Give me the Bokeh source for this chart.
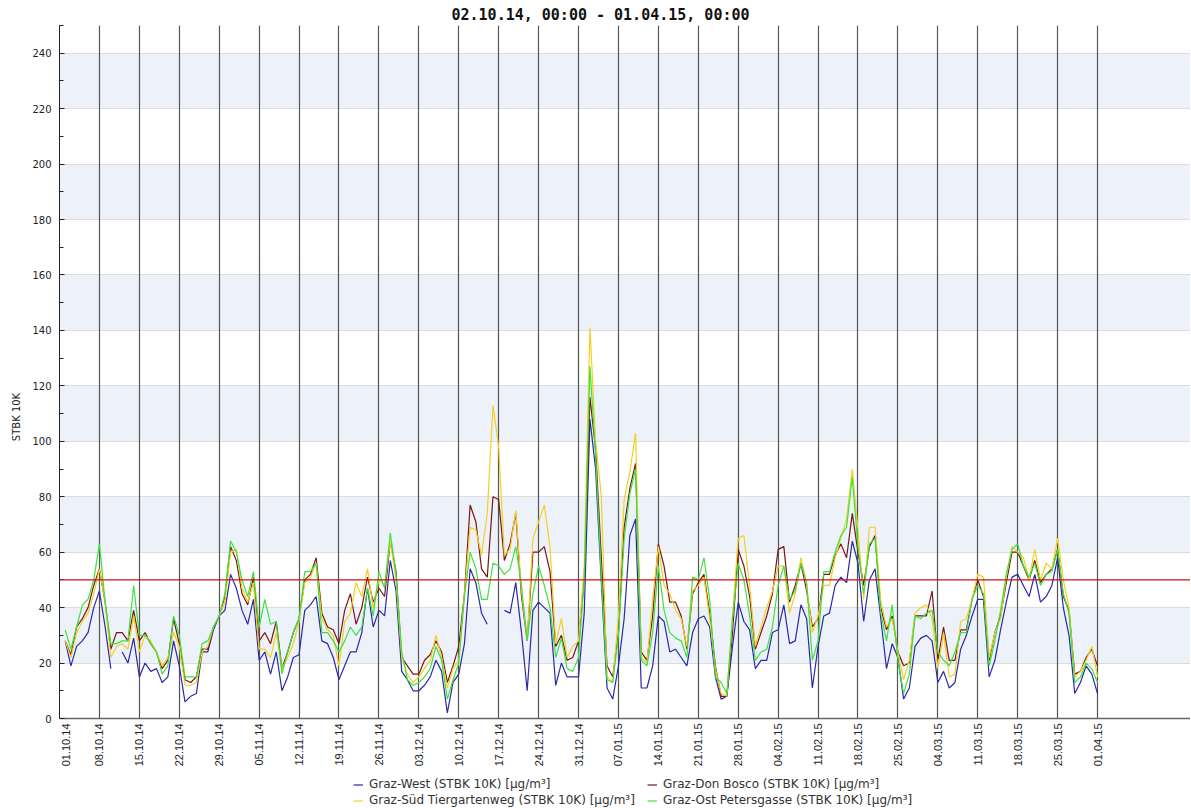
import math
from datetime import datetime, timedelta
import numpy as np
import pandas as pd
from bokeh.plotting import figure
from bokeh.models import (Range1d, FixedTicker, DatetimeTickFormatter, Span,
                          Legend, LegendItem, BoxAnnotation, ColumnDataSource)
from bokeh.embed import file_html
from bokeh.resources import INLINE

nan = float("nan")

# ---------------- data ----------------
start_date = "2014-10-02"
n_days = 182
dates = pd.date_range(start_date, periods=n_days, freq="D")

graz_west = [28, 19, 26, 28, 31, 40, 46, 33, 18, nan, 24, 20, 29, 15, 20, 17, 18, 13, 15, 28,
             19, 6, 8, 9, 24, 24, 32, 37, 39, 52, 47, 39, 34, 43, 21, 24, 16, 24, 10, 15,
             22, 23, 39, 41, 44, 28, 27, 22, 14, 19, 24, 24, 31, 47, 33, 39, 37, 57, 46, 17,
             14, 10, 10, 12, 15, 21, 17, 2, 13, 16, 27, 54, 49, 38, 34, nan, nan, 39, 38, 49,
             31, 10, 39, 42, 40, 38, 12, 20, 15, 15, 15, 38, 108, 90, 49, 11, 7, 19, 36, 66,
             72, 11, 11, 19, 37, 35, 24, 25, 22, 19, 31, 36, 37, 33, 15, 7, 8, 26, 42, 35,
             32, 18, 21, 21, 31, 32, 41, 27, 28, 41, 36, 11, 26, 37, 38, 48, 51, 49, 64, 56,
             35, 50, 54, 36, 18, 27, 22, 7, 11, 26, 29, 30, 28, 13, 17, 11, 13, 25, 30, 37,
             43, 43, 15, 21, 32, 42, 51, 52, 48, 44, 52, 42, 44, 48, 58, 40, 30, 9, 13, 19,
             16, 9]

graz_don_bosco = [28, 23, 33, 36, 40, 48, 54, 42, 25, 31, 31, 28, 39, 28, 31, 27, 24, 18, 21, 36,
                  27, 14, 13, 15, 25, 25, 33, 37, 44, 62, 57, 45, 41, 51, 28, 31, 27, 35, 18, 24,
                  31, 36, 50, 52, 58, 38, 33, 32, 27, 39, 45, 34, 40, 51, 42, 47, 44, 64, 53, 22,
                  19, 16, 16, 21, 23, 28, 24, 13, 19, 26, 45, 77, 71, 54, 51, 80, 79, 57, 63, 74,
                  44, 28, 60, 60, 62, 53, 26, 30, 21, 22, 28, 50, 116, 97, 58, 19, 15, 31, 69, 83,
                  92, 24, 21, 37, 63, 55, 42, 42, 37, 25, 45, 49, 52, 38, 19, 8, 8, 31, 61, 55,
                  44, 25, 31, 37, 45, 61, 62, 42, 48, 56, 46, 33, 36, 52, 52, 59, 63, 58, 74, 60,
                  48, 62, 66, 40, 32, 37, 24, 19, 20, 37, 37, 37, 46, 21, 33, 21, 21, 32, 32, 43,
                  50, 44, 21, 31, 37, 49, 60, 60, 55, 50, 57, 49, 52, 54, 61, 44, 39, 16, 17, 22,
                  25, 19]

graz_sued = [28, 22, 31, 35, 38, 45, 54, 42, 22, 26, 27, 25, 37, 24, 30, 28, 24, 19, 22, 31,
             26, 12, 12, 13, 24, 26, 33, 37, 42, 60, 61, 47, 42, 49, 25, 25, 22, 31, 18, 22,
             27, 35, 49, 51, 56, 36, 32, 30, 19, 35, 38, 49, 44, 54, 40, 50, 48, 64, 50, 22,
             16, 13, 15, 18, 21, 30, 22, 11, 18, 21, 45, 69, 68, 59, 74, 113, 98, 59, 61, 75,
             46, 28, 65, 71, 77, 62, 27, 36, 22, 26, 28, 55, 141, 100, 80, 15, 13, 37, 79, 89,
             103, 22, 20, 43, 62, 48, 45, 39, 36, 26, 46, 48, 51, 36, 18, 9, 8, 37, 65, 66,
             48, 26, 33, 40, 46, 55, 55, 38, 45, 58, 48, 31, 37, 48, 48, 58, 65, 72, 90, 68,
             43, 69, 69, 42, 33, 36, 24, 14, 21, 38, 40, 41, 36, 18, 31, 15, 16, 35, 36, 43,
             52, 51, 22, 31, 36, 51, 62, 60, 58, 50, 61, 50, 56, 54, 65, 50, 40, 15, 17, 21,
             26, 15]

graz_ost = [32, 25, 33, 41, 43, 50, 63, 42, 27, 27, 28, 28, 48, 30, 30, 27, 24, 16, 19, 37,
            30, 15, 15, 15, 27, 28, 33, 37, 45, 64, 60, 50, 44, 53, 33, 43, 34, 35, 16, 24,
            31, 36, 53, 53, 56, 31, 31, 28, 24, 28, 33, 30, 33, 47, 37, 53, 47, 67, 52, 24,
            14, 12, 13, 15, 18, 26, 21, 7, 14, 20, 44, 60, 54, 43, 43, 56, 55, 52, 54, 62,
            48, 28, 45, 55, 48, 40, 22, 29, 18, 17, 22, 50, 127, 95, 51, 14, 13, 30, 65, 81,
            90, 21, 19, 31, 55, 39, 31, 29, 28, 22, 51, 50, 58, 43, 15, 13, 9, 36, 56, 50,
            37, 21, 24, 25, 33, 48, 55, 43, 46, 56, 49, 21, 28, 53, 53, 60, 66, 69, 87, 62,
            45, 63, 65, 38, 28, 41, 21, 9, 16, 37, 36, 38, 39, 24, 21, 19, 24, 31, 31, 43,
            48, 45, 19, 28, 39, 52, 61, 63, 55, 51, 56, 48, 52, 53, 61, 45, 38, 13, 15, 20,
            18, 13]

series_names = [
    "Graz-West (STBK 10K) [µg/m³]",
    "Graz-Don Bosco (STBK 10K) [µg/m³]",
    "Graz-Süd Tiergartenweg (STBK 10K) [µg/m³]",
    "Graz-Ost Petersgasse (STBK 10K) [µg/m³]",
]
series_values = [graz_west, graz_don_bosco, graz_sued, graz_ost]
series_colors = ["#2a2aa8", "#7a1616", "#f3cf22", "#3ee23e"]

tick_dates = pd.date_range("2014-10-01", "2015-04-01", freq="7D")
tick_labels = ["01.10.14", "08.10.14", "15.10.14", "22.10.14", "29.10.14", "05.11.14",
               "12.11.14", "19.11.14", "26.11.14", "03.12.14", "10.12.14", "17.12.14",
               "24.12.14", "31.12.14", "07.01.15", "14.01.15", "21.01.15", "28.01.15",
               "04.02.15", "11.02.15", "18.02.15", "25.02.15", "04.03.15", "11.03.15",
               "18.03.15", "25.03.15", "01.04.15"]
y_ticks = list(range(0, 241, 20))
y_minor = list(range(10, 251, 10))
band_ticks = list(range(-20, 261, 20))
limit_value = 50
title_text = "02.10.14, 00:00 - 01.04.15, 00:00"
y_label = "STBK 10K"

# ---------------- figure ----------------
x_start = datetime(2014, 10, 1)
x_end = x_start + timedelta(days=198.3)
y_top = 250
px_per_unit = 693 / y_top
y_bottom = -90 / px_per_unit          # room below the zero line for labels + legend

p = figure(frame_width=1131, frame_height=783, x_axis_type="datetime",
           x_range=Range1d(x_start, x_end), y_range=Range1d(y_bottom, y_top),
           output_backend="svg", toolbar_location=None,
           min_border_left=59, min_border_right=0, min_border_top=25,
           min_border_bottom=0)
p.outline_line_color = None
p.background_fill_color = "white"
p.border_fill_color = "white"

p.title.text = title_text
p.title.text_font = "DejaVu Sans Mono"
p.title.text_font_style = "bold"
p.title.text_font_size = "15px"
p.title.align = "left"
p.title.offset = 392
p.title.standoff = 4
p.title.text_color = "#111111"

tick_ms = [d.value / 1e6 for d in tick_dates]
xax = p.xaxis[0]
xax.fixed_location = 0
xax.ticker = FixedTicker(ticks=tick_ms)
xax.formatter = DatetimeTickFormatter(days="%d.%m.%y", months="%d.%m.%y",
                                      years="%d.%m.%y")
xax.major_label_text_alpha = 0        # labels are drawn as text below the line
xax.major_tick_in = 0
xax.major_tick_out = 0
xax.minor_tick_out = 0
xax.minor_tick_in = 0
xax.axis_line_color = "#666666"
xax.axis_line_width = 1.5
try:
    xax.face = "back"
except Exception:
    pass

# date labels under the zero line, reading bottom-to-top
label_shift = [6] + [0] * (len(tick_labels) - 1)   # keep first label inside the frame
label_src = ColumnDataSource(dict(x=list(tick_dates), y=[0] * len(tick_labels),
                                  text=tick_labels, xo=label_shift))
p.text(x="x", y="y", text="text", source=label_src, angle=math.pi / 2,
       text_align="right", text_baseline="middle", x_offset="xo", y_offset=5,
       text_font_size="11px", text_color="#222222")

yax = p.yaxis[0]
yax.bounds = (0, y_top)
yax.ticker = FixedTicker(ticks=y_ticks, minor_ticks=y_minor)
yax.major_label_text_font = "DejaVu Sans"
yax.major_label_text_font_size = "10px"
yax.major_label_text_color = "#222222"
yax.major_tick_in = 5
yax.major_tick_out = 0
yax.minor_tick_in = 4
yax.minor_tick_out = 0
yax.axis_line_color = "#222222"
yax.major_tick_line_color = "#222222"
yax.minor_tick_line_color = "#222222"
yax.axis_label = y_label
yax.axis_label_text_font = "DejaVu Sans"
yax.axis_label_text_font_size = "10px"
yax.axis_label_text_font_style = "normal"
yax.axis_label_text_color = "#222222"
yax.axis_label_standoff = 7
yax.major_label_standoff = 8

xg = p.xgrid[0]
yg = p.ygrid[0]
xg.ticker = FixedTicker(ticks=tick_ms)
xg.grid_line_color = "#555555"
xg.grid_line_width = 1.2
yg.ticker = FixedTicker(ticks=band_ticks)
yg.grid_line_color = "#dcdcdc"
yg.grid_line_width = 1
yg.band_fill_color = "#edf2fa"
yg.band_fill_alpha = 1.0
# draw bands first, then the vertical week lines over them
p.center = [yg, xg] + [r for r in p.center if r is not xg and r is not yg]

# blank area below the zero line (holds tick labels and legend)
p.add_layout(BoxAnnotation(top=0, fill_color="white", fill_alpha=1.0,
                           line_color=None, level="underlay"))

renderers = []
for name, vals, col in zip(series_names, series_values, series_colors):
    r = p.line(dates, np.array(vals, dtype=float), line_color=col, line_width=1.2)
    renderers.append(r)

p.add_layout(Span(location=limit_value, dimension="width", line_color="#cc1111",
                  line_width=1.2))

# legend: column-wise fill -> rows (West, Don Bosco), (Süd, Ost)
legend_order = [0, 2, 1, 3]
legend = Legend(items=[LegendItem(label=series_names[i], renderers=[renderers[i]])
                       for i in legend_order],
                orientation="vertical", nrows=2,
                location=(294, 1), label_text_font="DejaVu Sans",
                label_text_font_size="12px", label_text_color="#333333",
                glyph_width=10, glyph_height=13, label_height=13, label_width=276,
                spacing=2, padding=0, margin=0, border_line_color=None,
                background_fill_alpha=0, label_standoff=6)
p.add_layout(legend, "center")

open("out.html", "w").write(file_html(p, INLINE))
